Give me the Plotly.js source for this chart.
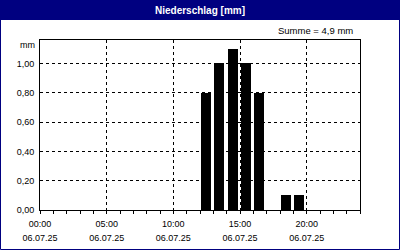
<!DOCTYPE html>
<html>
<head>
<meta charset="utf-8">
<script src="https://cdn.plot.ly/plotly-3.0.1.min.js"></script>
<style>html,body{margin:0;padding:0;background:#fff;}#chart{width:400px;height:250px;}</style>
</head>
<body>
<div id="chart"></div>
<script>
// Data
const hourStart = [12, 13, 14, 15, 16, 18, 19];
const precip = [0.8, 1.0, 1.1, 1.0, 0.8, 0.1, 0.1];
const xTickVals = [0, 5, 10, 15, 20];
const xTimeLabels = ["00:00", "05:00", "10:00", "15:00", "20:00"];
const xDateLabels = ["06.07.25", "06.07.25", "06.07.25", "06.07.25", "06.07.25"];
const yTickVals = [0, 0.2, 0.4, 0.6, 0.8, 1.0];
const yTickLabels = ["0,00", "0,20", "0,40", "0,60", "0,80", "1,00"];
const titleText = "Niederschlag [mm]";
const sumText = "Summe = 4,9 mm";
const unitText = "mm";

const navy = "#000080";
const font = "Liberation Sans, Arial, sans-serif";
const W = 400, H = 250, L = 40, R = 40, T = 40, B = 40;
const pw = W - L - R, ph = H - T - B;
const px = v => (v - L) / pw;           // pixel x -> paper x
const py = v => (H - B - v) / ph;       // pixel y -> paper y

const trace = {
  type: "bar",
  x: hourStart,
  y: precip,
  width: 0.75,
  offset: 0.08,
  marker: {color: "#000", line: {width: 0}},
  hoverinfo: "skip",
  xaxis: "x", yaxis: "y"
};
const dummy = {type: "scatter", x: [0], y: [0], mode: "none", xaxis: "x2", yaxis: "y", hoverinfo: "skip", showlegend: false};

const layout = {
  width: W, height: H,
  margin: {l: L, r: R, t: T, b: B, pad: 0},
  paper_bgcolor: "#ffffff",
  plot_bgcolor: "#ffffff",
  showlegend: false,
  bargap: 0,
  font: {family: font, size: 9, color: "#000"},
  title: {text: "<b>" + titleText + "</b>", x: 0.5, xanchor: "center", y: 1 - 10.5 / H, yanchor: "middle", yref: "container",
          font: {family: font, size: 10, color: "#ffffff"}},
  xaxis: {
    range: [0, 24], fixedrange: true,
    tickmode: "array", tickvals: xTickVals, ticktext: xTimeLabels,
    ticks: "outside", ticklen: 3, tickwidth: 1, tickcolor: "#000",
    showline: true, linecolor: "#000", linewidth: 1, mirror: true,
    showgrid: true, gridcolor: "#000", gridwidth: 1, griddash: "3px,3px",
    zeroline: false,
    minor: {tickmode: "linear", tick0: 0, dtick: 1, ticks: "outside", ticklen: 3, tickwidth: 1, tickcolor: "#000", showgrid: false},
    tickfont: {family: font, size: 9, color: "#000"},
    ticklabelstandoff: 2
  },
  xaxis2: {
    range: [0, 24], fixedrange: true, overlaying: "x", anchor: "free", position: 0, side: "bottom",
    tickmode: "array", tickvals: xTickVals, ticktext: xDateLabels,
    ticks: "", showline: false, showgrid: false, zeroline: false,
    tickfont: {family: font, size: 9, color: "#000"},
    ticklabelstandoff: 21
  },
  yaxis: {
    range: [0, 1.16], fixedrange: true,
    tickmode: "array", tickvals: yTickVals, ticktext: yTickLabels,
    ticks: "", showline: true, linecolor: "#000", linewidth: 1, mirror: true,
    showgrid: true, gridcolor: "#000", gridwidth: 1, griddash: "3px,3px",
    zeroline: false,
    tickfont: {family: font, size: 9, color: "#000"},
    ticklabelstandoff: 3
  },
  shapes: [
    {type: "rect", xref: "paper", yref: "paper", layer: "below",
     x0: px(0), x1: px(W), y0: py(20), y1: py(0), fillcolor: navy, line: {width: 0}},
    {type: "rect", xref: "paper", yref: "paper", layer: "below",
     x0: px(0.5), x1: px(W - 0.5), y0: py(H - 0.5), y1: py(0.5), fillcolor: "rgba(0,0,0,0)", line: {color: navy, width: 1}}
  ],
  annotations: [
    {text: sumText, xref: "paper", yref: "paper", x: px(355), y: py(31), xanchor: "right", yanchor: "middle",
     showarrow: false, font: {family: font, size: 9.5, color: "#000"}},
    {text: unitText, xref: "paper", yref: "paper", x: px(37), y: py(45), xanchor: "right", yanchor: "middle",
     showarrow: false, font: {family: font, size: 9, color: "#000"}}
  ]
};

Plotly.newPlot("chart", [trace, dummy], layout, {displayModeBar: false, staticPlot: true});
</script>
</body>
</html>
